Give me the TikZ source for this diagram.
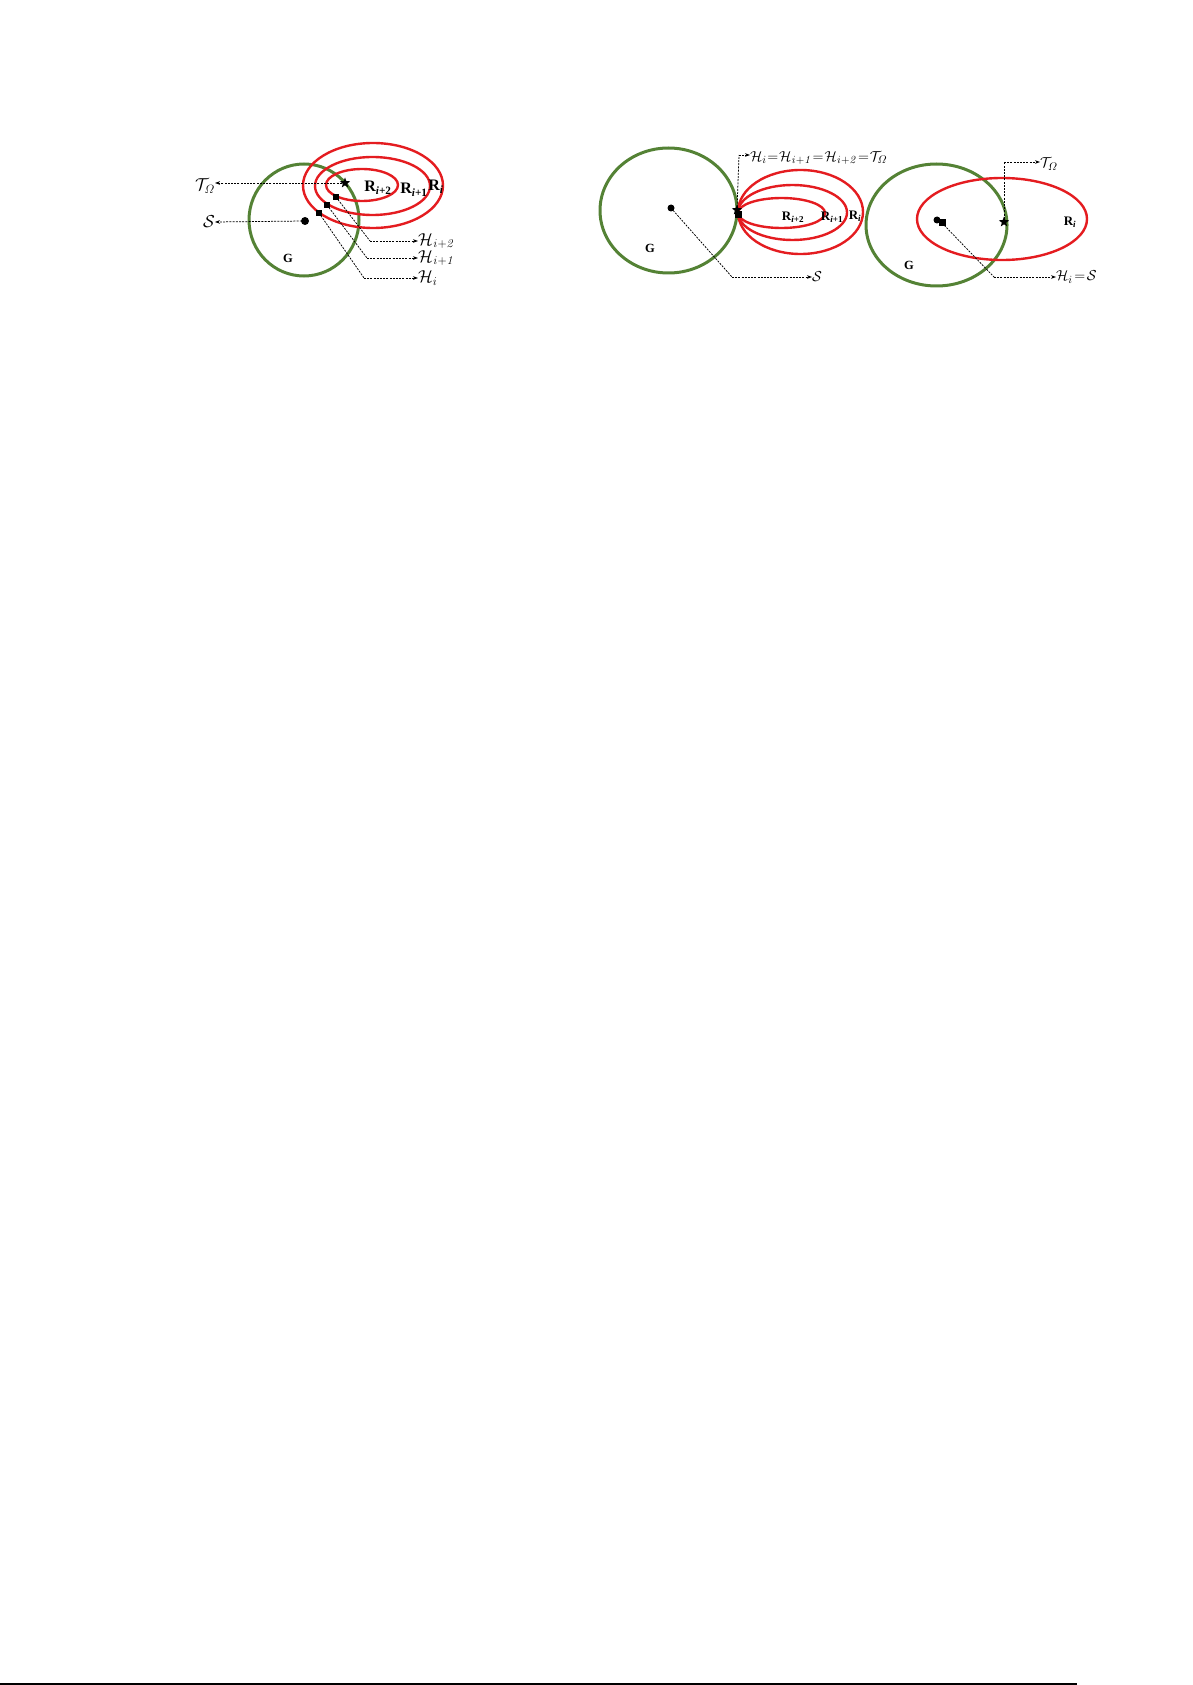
\documentclass[tikz,border=0pt]{standalone}
\usepackage{amsmath}
\usepackage[no-math]{fontspec}
\setmainfont{Liberation Serif}
\usetikzlibrary{shapes.geometric,arrows.meta}
\definecolor{ggreen}{RGB}{84,130,53}
\definecolor{rred}{RGB}{228,28,32}
\begin{document}
\begin{tikzpicture}[x=1pt,y=-1pt,
  gcirc/.style={draw=ggreen,line width=3pt},
  rell/.style={draw=rred,line width=2.4pt},
  conn/.style={dash pattern=on 2pt off 1.2pt, line width=0.75pt, -{Stealth[length=5pt,width=3.6pt]}},
  connp/.style={dash pattern=on 2pt off 1.2pt, line width=0.75pt},
  sq/.style={rectangle,fill=black,minimum size=6pt,inner sep=0pt},
  dot/.style={circle,fill=black,minimum size=8pt,inner sep=0pt},
  st/.style={star,star points=5,star point ratio=2.4,fill=black,minimum size=11pt,inner sep=0pt},
  labA/.style={font=\fontsize{18}{18}\selectfont,inner sep=0pt},
  labB/.style={font=\fontsize{15.5}{15.5}\selectfont,inner sep=0pt},
  rlabA/.style={font=\fontsize{16}{16}\selectfont\bfseries,inner sep=0pt},
  rlabB/.style={font=\fontsize{13}{13}\selectfont\bfseries,inner sep=0pt},
  glab/.style={font=\fontsize{12.5}{12.5}\selectfont\bfseries,inner sep=0pt},
]
\useasboundingbox (0,0) rectangle (1192,1685);

% ---------------- Panel 1 ----------------
\draw[gcirc] (304,220) ellipse [x radius=55, y radius=56];
\draw[rell] (373,185.5) ellipse [x radius=70, y radius=42.5];
\draw[rell] (372.5,186) ellipse [x radius=57.5, y radius=29];
\draw[rell] (362,185) ellipse [x radius=36, y radius=16];

\node[st] (star1) at (345,183) {};
\node[sq] (h2) at (336,197) {};
\node[sq] (h1) at (327,205) {};
\node[sq] (h0) at (319,213) {};
\node[dot] (s1) at (305,221) {};

\node[labA,anchor=east] (T1) at (215,186) {$\mathcal{T}_{\varOmega}$};
\node[labA,anchor=east] (S1) at (215,222) {$\mathcal{S}$};
\node[glab] (G1) at (288,258) {G};
\node[rlabA] (R12) at (378,188) {R\textsubscript{\textit{i}+2}};
\node[rlabA] (R11) at (414,190) {R\textsubscript{\textit{i}+1}};
\node[rlabA] (R10) at (436,187) {R\textsubscript{\textit{i}}};

\node[labA,anchor=west] (H2) at (418,241) {$\mathcal{H}_{\mathit{i+2}}$};
\node[labA,anchor=west] (H1) at (418,258) {$\mathcal{H}_{\mathit{i+1}}$};
\node[labA,anchor=west] (H0) at (418,278) {$\mathcal{H}_{i}$};
\coordinate (c2) at (370,241);
\coordinate (c1) at (367,258);
\coordinate (c0) at (364,278);

\draw[conn] (star1.center) -- (T1.east |- star1.center);
\draw[conn] (s1.center) -- (S1.east);
\draw[connp] (h2.center) -- (c2);
\draw[conn] (c2) -- (H2.west);
\draw[connp] (h1.center) -- (c1);
\draw[conn] (c1) -- (H1.west);
\draw[connp] (h0.center) -- (c0);
\draw[conn] (c0) -- (H0.west);

% ---------------- Panel 2 ----------------
\draw[gcirc] (668.5,210.5) ellipse [x radius=68.5, y radius=62.5];
\draw[rell] (800.5,212) ellipse [x radius=62.5, y radius=42];
\draw[rell] (792.5,212.5) ellipse [x radius=54.5, y radius=27.5];
\draw[rell] (781.5,213) ellipse [x radius=43.5, y radius=15];

\node[dot,minimum size=7pt] (s2) at (671,208) {};
\node[sq,minimum size=7pt] (h2b) at (738,215) {};
\node[st] (star2) at (737,210) {};

\node[glab] (G2) at (650,248) {G};
\node[rlabB] (R22) at (793,217) {R\textsubscript{\textit{i}+2}};
\node[rlabB] (R21) at (832,217) {R\textsubscript{\textit{i}+1}};
\node[rlabB] (R20) at (855,216) {R\textsubscript{\textit{i}}};

\node[labB,anchor=west] (E2) at (750,158) {\thickmuskip=1mu $\mathcal{H}_{i}=\mathcal{H}_{\mathit{i+1}}=\mathcal{H}_{\mathit{i+2}}=\mathcal{T}_{\varOmega}$};
\coordinate (u2) at (739,155);
\draw[connp] (star2.center) -- (u2);
\draw[conn] (u2) -- (E2.west |- u2);

\node[labB,anchor=west] (S2) at (812,277) {$\mathcal{S}$};
\coordinate (d2) at (732,277);
\draw[connp] (s2.center) -- (d2);
\draw[conn] (d2) -- (S2.west);

% ---------------- Panel 3 ----------------
\draw[gcirc] (936.5,225) ellipse [x radius=70.5, y radius=61];
\draw[rell] (1002,219) ellipse [x radius=85, y radius=41];

\node[dot,minimum size=7pt] (s3) at (937,220) {};
\node[sq,minimum size=7pt] (h3) at (942,223) {};
\node[st] (star3) at (1004,222) {};

\node[glab] (G3) at (909,265) {G};
\node[rlabB] (R30) at (1070,222) {R\textsubscript{\textit{i}}};

\node[labB,anchor=west] (T3) at (1040,164) {$\mathcal{T}_{\varOmega}$};
\coordinate (u3) at (1004,162);
\draw[connp] (star3.center) -- (u3);
\draw[conn] (u3) -- (T3.west |- u3);

\node[labB,anchor=west] (E3) at (1056,277) {\thickmuskip=2mu $\mathcal{H}_{i}=\mathcal{S}$};
\coordinate (d3) at (994,277);
\draw[connp] (h3.center) -- (d3);
\draw[conn] (d3) -- (E3.west);

% ---------------- bottom rule ----------------
\coordinate (b0) at (0,1684);
\coordinate (b1) at (1077,1684);
\draw[line width=1.5pt] (b0) -- (b1);
\end{tikzpicture}
\end{document}
